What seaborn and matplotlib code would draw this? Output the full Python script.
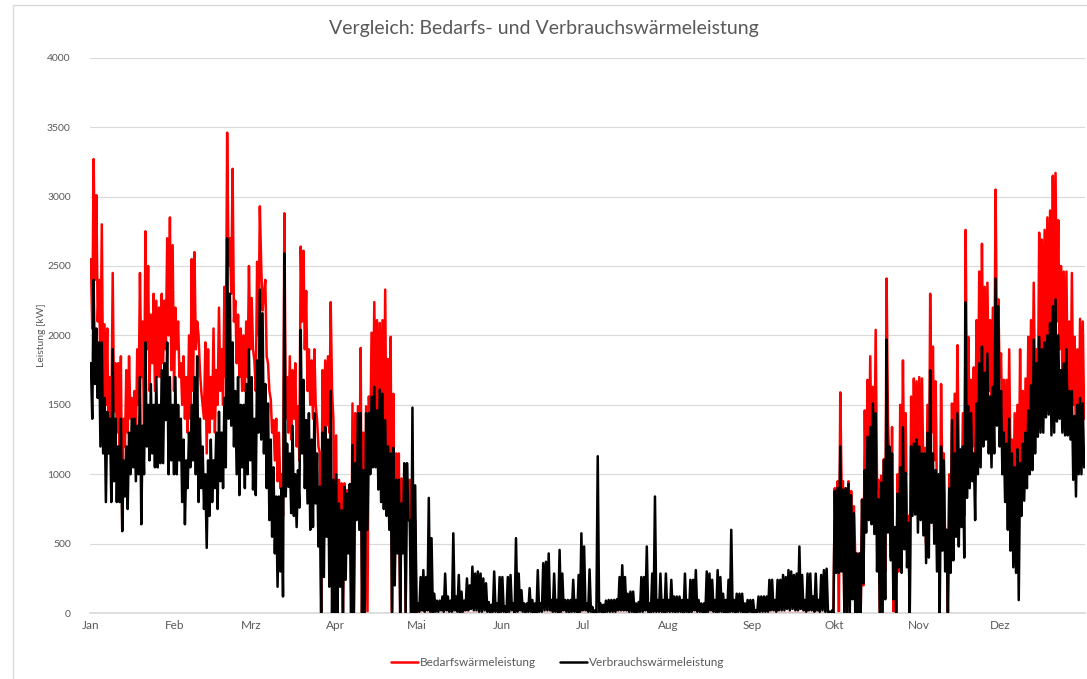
import numpy as np
import pandas as pd
import matplotlib
matplotlib.use("Agg")
import matplotlib.pyplot as plt
import seaborn as sns

# Tageswerte (Maximum / Minimum) in kW, Tag 0 = 1. Januar
bedarf_max = [
    2550, 3270, 3010, 2400, 2800, 2080, 2050, 1700, 2450, 1800, 1800, 1850, 1400, 1750, 1850, 1550, 1600, 1900, 2450, 2100, 2750, 2500, 2150, 2300, 2250, 2200, 2300, 2250, 2700, 2850, 2650,
    2200, 2100, 1800, 1850, 1700, 2000, 2550, 2600, 2100, 1750, 1500, 1950, 1900, 1700, 2050, 1750, 2200, 1900, 2350, 3460, 2700, 3200, 2250, 2150, 2050, 2000, 2100, 2500,
    2270, 1820, 2530, 2930, 2180, 2400, 1800, 1540, 1390, 1400, 1300, 1000, 2880, 1700, 1850, 1750, 1800, 1490, 2640, 2610, 2320, 1900, 1820, 1900, 1390, 1150, 1750, 1820, 1850, 2240, 1390,
    1280, 960, 935, 935, 886, 838, 1510, 1440, 1490, 1910, 1300, 1490, 1560, 2020, 2240, 2110, 2090, 2110, 2330, 1830, 1990, 1580, 1150, 1150, 970, 960, 960, 960, 1080, 670,
    0, 0, 0, 0, 0, 0, 0, 0, 0, 0, 0, 0, 0, 0, 0, 0, 0, 0, 0, 0, 0, 0, 0, 0, 0, 0, 0, 0, 0, 0, 0,
    0, 0, 0, 0, 0, 0, 0, 0, 0, 0, 0, 0, 0, 0, 0, 0, 0, 0, 0, 0, 0, 0, 0, 0, 0, 0, 0, 0, 0, 0,
    0, 0, 0, 0, 0, 0, 0, 0, 0, 0, 0, 0, 0, 0, 0, 0, 0, 0, 0, 0, 0, 0, 0, 0, 0, 0, 0, 0, 0, 0, 0,
    0, 0, 0, 0, 0, 0, 0, 0, 0, 0, 0, 0, 0, 0, 0, 0, 0, 0, 0, 0, 0, 0, 0, 0, 0, 0, 0, 0, 0, 0, 0,
    0, 0, 0, 0, 0, 0, 0, 0, 0, 0, 0, 0, 0, 0, 0, 0, 0, 0, 0, 0, 0, 0, 0, 0, 0, 0, 0, 0, 0, 0,
    900, 950, 1590, 950, 900, 950, 880, 770, 430, 430, 820, 1460, 1680, 1850, 1630, 2040, 960, 990, 1110, 2410, 1080, 1340, 620, 1000, 1500, 1820, 1440, 700, 1560, 1690, 1670,
    1700, 1690, 1190, 1500, 2300, 1920, 1670, 1000, 1650, 1150, 600, 1000, 1510, 1580, 1930, 1150, 1440, 2760, 1990, 1680, 1770, 2110, 2460, 2660, 2350, 2380, 2110, 2200, 3050, 2260,
    1870, 1680, 1680, 1900, 1250, 1440, 1500, 1900, 1600, 1690, 1990, 2110, 2380, 1900, 2740, 2690, 2760, 2850, 2900, 3150, 3170, 2830, 2500, 2460, 2460, 2100, 2450, 1990, 1900, 2120, 2100,
]

bedarf_min = [
    2050, 2400, 2100, 1700, 1550, 1500, 1200, 1300, 1450, 1300, 1100, 600, 1200, 1300, 1400, 1350, 1200, 1500, 1700, 1300, 1900, 1600, 1800, 1600, 1700, 1700, 1800, 1900, 2000, 1750, 1600,
    1900, 1700, 1500, 1400, 1300, 1400, 1600, 1900, 2000, 1600, 1400, 1150, 1300, 1400, 1300, 1500, 1600, 1500, 1700, 2500, 2300, 2100, 1800, 1700, 1600, 1600, 1700, 1900,
    1900, 1600, 2000, 2500, 2300, 1850, 1600, 1300, 1100, 950, 900, 700, 1400, 1300, 1250, 1400, 1200, 1100, 2100, 1900, 1600, 1500, 1400, 1500, 1200, 0, 1300, 1350, 1300, 1600, 0,
    0, 400, 0, 500, 600, 0, 0, 900, 900, 0, 0, 0, 1200, 1300, 1400, 1300, 1200, 1100, 1000, 900, 0, 300, 600, 0, 500, 0, 800, 0, 0, 0,
    0, 0, 0, 0, 0, 0, 0, 0, 0, 0, 0, 0, 0, 0, 0, 0, 0, 0, 0, 0, 0, 0, 0, 0, 0, 0, 0, 0, 0, 0, 0,
    0, 0, 0, 0, 0, 0, 0, 0, 0, 0, 0, 0, 0, 0, 0, 0, 0, 0, 0, 0, 0, 0, 0, 0, 0, 0, 0, 0, 0, 0,
    0, 0, 0, 0, 0, 0, 0, 0, 0, 0, 0, 0, 0, 0, 0, 0, 0, 0, 0, 0, 0, 0, 0, 0, 0, 0, 0, 0, 0, 0, 0,
    0, 0, 0, 0, 0, 0, 0, 0, 0, 0, 0, 0, 0, 0, 0, 0, 0, 0, 0, 0, 0, 0, 0, 0, 0, 0, 0, 0, 0, 0, 0,
    0, 0, 0, 0, 0, 0, 0, 0, 0, 0, 0, 0, 0, 0, 0, 0, 0, 0, 0, 0, 0, 0, 0, 0, 0, 0, 0, 0, 0, 0,
    300, 0, 900, 0, 0, 400, 300, 400, 0, 0, 200, 700, 1000, 1100, 1000, 900, 0, 0, 300, 1400, 400, 0, 0, 300, 700, 900, 600, 0, 900, 1100, 1100,
    1000, 1000, 500, 600, 1300, 1100, 800, 300, 900, 500, 0, 500, 900, 900, 1100, 700, 700, 1500, 1200, 1200, 1000, 1300, 1500, 1700, 1600, 1600, 1400, 1500, 1900, 1700,
    1300, 1100, 1000, 1000, 600, 700, 800, 1000, 1100, 1100, 1300, 1400, 1500, 1400, 1800, 1800, 1900, 1900, 2000, 2200, 2100, 1900, 1700, 1600, 1500, 1400, 1500, 1200, 1200, 1300, 1400,
]

verbrauch_max = [
    1800, 2400, 2050, 1950, 1950, 1550, 1450, 1400, 1900, 1400, 1200, 1400, 1100, 1200, 1300, 1400, 1400, 1350, 1700, 1350, 1950, 1500, 1650, 1500, 1700, 1500, 1750, 1800, 1950, 1700, 1500,
    1700, 1500, 1400, 1250, 1100, 1300, 1500, 1700, 1850, 1400, 1200, 1000, 1100, 1250, 1100, 1300, 1450, 1300, 1550, 2700, 2300, 1950, 1600, 1700, 1500, 1500, 1650, 1900,
    1700, 1400, 1820, 2330, 2160, 1650, 1510, 1250, 1050, 840, 840, 900, 2590, 1220, 1150, 1350, 1000, 1030, 2040, 1680, 1390, 1440, 1250, 1440, 1150, 910, 1300, 1340, 1250, 1600, 960,
    1000, 790, 740, 910, 860, 930, 1210, 1080, 1440, 1440, 1030, 1440, 1440, 1560, 1630, 1460, 1610, 1580, 1390, 1200, 1150, 1190, 960, 960, 790, 1080, 1080, 670, 1480, 920,
    70, 260, 310, 260, 830, 540, 140, 90, 90, 120, 285, 120, 90, 575, 120, 275, 155, 90, 250, 200, 335, 285, 300, 285, 250, 215, 80, 60, 300, 70, 260,
    260, 50, 260, 275, 70, 540, 285, 165, 70, 70, 180, 95, 70, 310, 70, 360, 370, 430, 95, 285, 95, 455, 285, 95, 95, 95, 240, 95, 275, 575,
    480, 70, 315, 45, 20, 1130, 70, 60, 90, 95, 95, 95, 100, 260, 345, 260, 140, 155, 155, 70, 80, 260, 260, 480, 70, 285, 840, 95, 285, 95, 285,
    95, 240, 120, 120, 120, 95, 285, 95, 240, 240, 310, 95, 70, 70, 300, 285, 240, 95, 310, 260, 140, 95, 240, 600, 95, 140, 140, 140, 70, 95, 95,
    95, 20, 120, 120, 120, 120, 240, 240, 95, 240, 240, 275, 260, 310, 300, 275, 285, 480, 275, 95, 285, 285, 120, 285, 95, 275, 310, 320, 10, 20,
    880, 900, 1200, 890, 900, 930, 850, 720, 430, 430, 815, 1030, 1270, 1340, 1510, 1440, 820, 940, 1100, 1970, 1200, 1150, 620, 860, 1050, 1340, 1010, 650, 1200, 1220, 1250,
    1200, 1150, 1150, 1300, 1750, 1150, 1030, 1000, 1200, 1100, 600, 900, 1390, 1150, 1440, 1180, 1200, 2240, 1490, 1440, 1150, 1510, 1800, 1920, 1730, 1870, 1560, 1630, 2410, 2210,
    1600, 1300, 1220, 1400, 1150, 1050, 1180, 1080, 1220, 1300, 1460, 1640, 1970, 1800, 1990, 1900, 1950, 2000, 2090, 2210, 2260, 2000, 1750, 1800, 1900, 1600, 1600, 1420, 1500, 1550, 1510,
]

verbrauch_min = [
    1400, 1650, 1550, 1200, 1150, 800, 1150, 800, 950, 800, 800, 590, 840, 750, 1000, 1050, 950, 1000, 640, 1000, 1200, 1100, 1150, 1050, 1050, 1080, 1080, 1390, 1000, 1100, 1000,
    1000, 1100, 800, 640, 900, 1050, 1100, 1000, 800, 900, 750, 470, 700, 800, 900, 750, 950, 900, 1050, 1400, 1350, 1200, 1000, 850, 1050, 900, 1000, 1100,
    890, 850, 1300, 1250, 1150, 900, 670, 550, 430, 190, 300, 120, 840, 910, 720, 700, 620, 760, 1150, 900, 790, 600, 620, 790, 480, 0, 260, 550, 190, 0, 0,
    0, 190, 0, 240, 430, 0, 0, 670, 600, 0, 0, 600, 1000, 1050, 1050, 890, 800, 750, 700, 600, 0, 200, 430, 0, 430, 0, 670, 0, 0, 0,
    10, 20, 10, 20, 10, 0, 10, 10, 20, 10, 20, 10, 10, 20, 10, 0, 10, 20, 20, 30, 20, 20, 10, 10, 20, 10, 0, 10, 10, 0, 10,
    10, 0, 10, 20, 0, 10, 20, 10, 0, 10, 10, 0, 0, 10, 10, 20, 20, 20, 10, 10, 0, 10, 20, 10, 0, 10, 10, 0, 10, 20,
    20, 10, 10, 0, 0, 10, 0, 0, 10, 10, 10, 10, 20, 20, 20, 20, 10, 10, 0, 0, 10, 10, 20, 10, 0, 10, 10, 10, 10, 0, 10,
    10, 10, 0, 10, 10, 0, 10, 0, 10, 20, 10, 10, 0, 0, 10, 20, 10, 0, 10, 10, 0, 0, 10, 10, 0, 10, 10, 0, 0, 10, 0,
    0, 0, 10, 10, 10, 10, 20, 20, 10, 20, 20, 20, 30, 20, 30, 20, 20, 30, 20, 10, 20, 20, 10, 20, 10, 20, 10, 0, 0, 0,
    290, 290, 300, 0, 0, 0, 100, 0, 0, 0, 215, 580, 670, 640, 570, 300, 0, 0, 100, 580, 380, 100, 0, 330, 290, 460, 330, 0, 700, 710, 580,
    670, 560, 360, 400, 650, 500, 300, 0, 450, 300, 0, 290, 380, 550, 480, 620, 400, 830, 900, 950, 670, 1000, 1050, 1200, 1250, 1150, 1050, 1150, 1350, 1200,
    1000, 800, 600, 450, 330, 290, 94, 700, 810, 900, 1000, 1030, 1150, 1270, 1300, 1300, 1410, 1430, 1280, 1300, 1380, 1400, 1300, 1280, 1280, 1250, 960, 840, 1000, 1000, 1050,
]

monate = ["Jan", "Feb", "Mrz", "Apr", "Mai", "Jun", "Jul", "Aug", "Sep", "Okt", "Nov", "Dez"]
monatsanfang = [0, 31, 59, 90, 120, 151, 181, 212, 243, 273, 304, 334]


def to_long(vmax, vmin, name):
    tage = np.arange(len(vmax))
    x = np.column_stack([tage + 0.25, tage + 0.75]).ravel()
    y = np.column_stack([vmax, vmin]).ravel()
    return pd.DataFrame({"tag": x, "leistung": y, "serie": name})


df_bedarf = to_long(bedarf_max, bedarf_min, "Bedarfswärmeleistung")
df_verbrauch = to_long(verbrauch_max, verbrauch_min, "Verbrauchswärmeleistung")

sns.set_theme(style="white")
plt.rcParams["font.family"] = ["Lato", "DejaVu Sans"]

grau = "#595959"
fig = plt.figure(figsize=(10.87, 6.79), dpi=100)
ax = fig.add_axes([0.083, 0.097, 0.915, 0.818])

sns.lineplot(data=df_bedarf, x="tag", y="leistung", color="#ff0000", lw=1.8,
             estimator=None, sort=False, ax=ax, label="Bedarfswärmeleistung", zorder=2)
sns.lineplot(data=df_verbrauch, x="tag", y="leistung", color="#000000", lw=1.8,
             estimator=None, sort=False, ax=ax, label="Verbrauchswärmeleistung", zorder=3)

ax.set_xlim(0, 365)
ax.set_ylim(0, 4000)
ax.set_yticks(range(0, 4001, 500))
ax.set_xticks(monatsanfang)
ax.set_xticklabels(monate)
ax.tick_params(axis="y", length=0, labelsize=7.5, labelcolor=grau, pad=14)
ax.tick_params(axis="x", length=3, color="#d9d9d9", labelsize=8.5, labelcolor=grau, pad=2, direction="out")
ax.yaxis.grid(True, color="#d9d9d9", lw=0.8)
ax.xaxis.grid(False)
for s in ["top", "right", "left"]:
    ax.spines[s].set_visible(False)
ax.spines["bottom"].set_color("#d9d9d9")
ax.set_xlabel("")
ax.set_ylabel("Leistung [kW]", fontsize=7.5, color=grau, labelpad=1)

ax.get_legend().remove()
fig.legend(*ax.get_legend_handles_labels(), loc="lower center", ncol=2, frameon=False,
           bbox_to_anchor=(0.513, 0.0), fontsize=8.5, labelcolor=grau,
           handlelength=2.3, handletextpad=0.15, columnspacing=2.0)

fig.suptitle("Vergleich: Bedarfs- und Verbrauchswärmeleistung", y=0.97, fontsize=14, color=grau)

rahmen = plt.Rectangle((0.012, -0.01), 1.0, 1.002, transform=fig.transFigure,
                       fill=False, edgecolor="#d9d9d9", lw=1.0)
fig.patches.append(rahmen)

fig.savefig("out.png", dpi=100)
